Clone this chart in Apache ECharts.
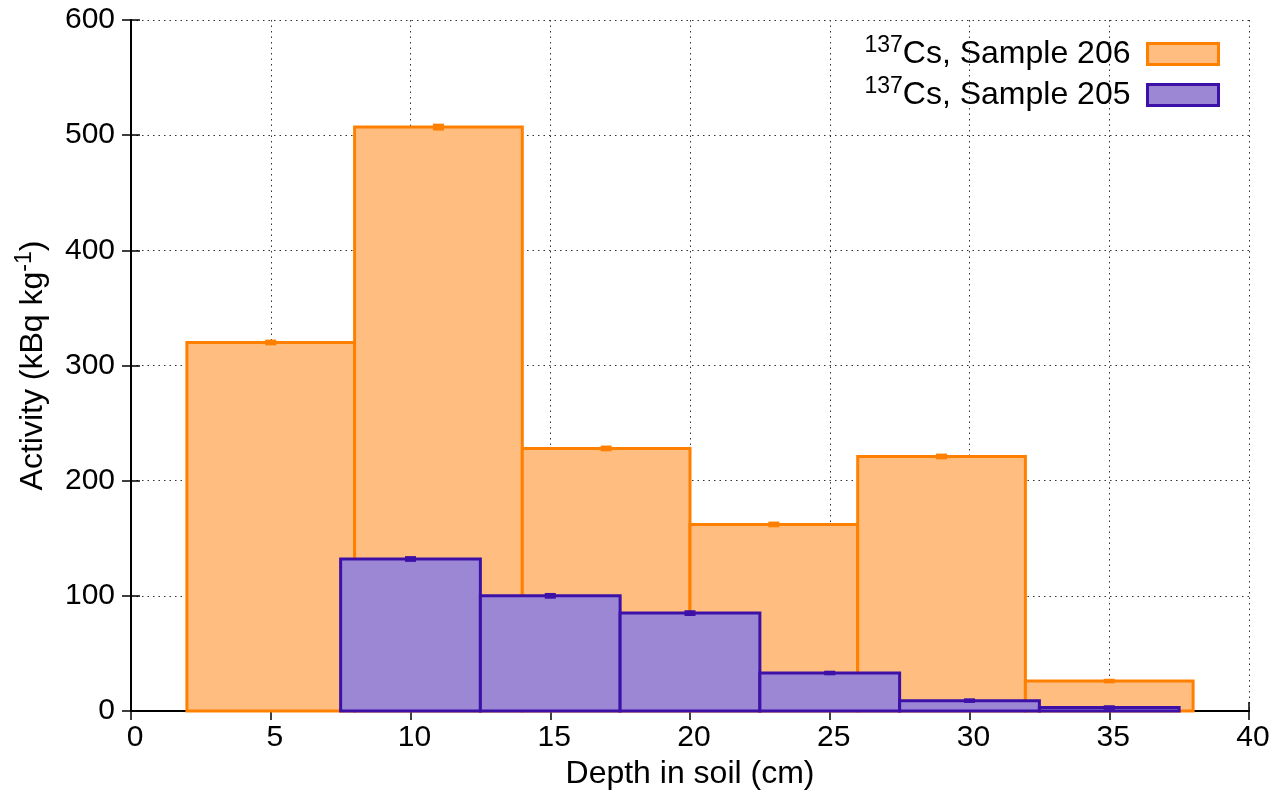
<!DOCTYPE html>
<html>
<head>
<meta charset="utf-8">
<title>137Cs activity vs depth</title>
<script src="https://cdn.jsdelivr.net/npm/echarts@6/dist/echarts.min.js"></script>
<style>
    html, body { margin: 0; padding: 0; background: #fff; }
    #chart { width: 1282px; height: 796px; }
</style>
</head>
<body>
<div id="chart"></div>
<script>
// bin edges (cm) and activities (kBq/kg)
const depth206Left = [2, 8, 14, 20, 26, 32];
const depth206Right = [8, 14, 20, 26, 32, 38];
const activity206 = [320, 507, 228, 162, 221, 26];
const error206 = [2.5, 3, 2.5, 2.5, 2.5, 2];

const depth205Left = [7.5, 12.5, 17.5, 22.5, 27.5, 32.5];
const depth205Right = [12.5, 17.5, 22.5, 27.5, 32.5, 37.5];
const activity205 = [132, 100, 85, 33, 9, 3];
const error205 = [2.5, 2.5, 2.5, 2, 2, 2];

const FONT = 'Liberation Sans';
const FS_TICK = 30; // 刻度字号
const FS = 32; // 标题/图例字号
const ORANGE = '#ff8000';
const ORANGE_FILL = '#ffbd80';
const PURPLE = '#3d10a8';
const PURPLE_FILL = '#9b87d4';

const toRows = (left, right, val, err) => left.map((l, i) => [l, right[i], val[i], err[i]]);

// 直方块 + 误差小块
const boxRender = (stroke, fill) => (params, api) => {
    const l = api.value(0);
    const r = api.value(1);
    const v = api.value(2);
    const e = api.value(3);
    const p0 = api.coord([l, v]);
    const p1 = api.coord([r, 0]);
    const c = (l + r) / 2;
    const eTop = api.coord([c, v + e]);
    const eBot = api.coord([c, v - e]);
    return {
        type: 'group',
        children: [
            {
                type: 'rect',
                shape: { x: p0[0], y: p0[1], width: p1[0] - p0[0], height: p1[1] - p0[1] },
                style: { fill, stroke, lineWidth: 3 },
            },
            {
                type: 'rect',
                shape: { x: eTop[0] - 5.5, y: eTop[1], width: 11, height: Math.max(eBot[1] - eTop[1], 3) },
                style: { fill: stroke, stroke: null },
            },
        ],
    };
};

const supRich = {
    n: { fontFamily: FONT, fontSize: FS, color: '#000' },
    sup: { fontFamily: FONT, fontSize: 23, color: '#000', padding: [0, 0, 17, 0] },
};

const gridLine = { show: true, lineStyle: { color: '#333', type: [1.5, 4], width: 1 } };
const tickStyle = { show: true, inside: true, length: 9, lineStyle: { color: '#000', width: 1.5 } };
const lineStyle = { color: '#000', width: 2 };

const chart = echarts.init(document.getElementById('chart'));
chart.setOption({
    animation: false,
    grid: { left: 131, right: 33, top: 20, bottom: 85 },
    legend: {
        orient: 'vertical',
        right: 62,
        top: 34,
        padding: 0,
        align: 'right',
        itemWidth: 71,
        itemHeight: 21,
        itemGap: 5,
        textStyle: { fontFamily: FONT, fontSize: FS, color: '#000', padding: [0, 12, 0, 0], rich: supRich },
        formatter: name => `{sup|137}{n|${name}}`,
        data: [
            { name: 'Cs, Sample 206', icon: 'rect', itemStyle: { color: ORANGE_FILL, borderColor: ORANGE, borderWidth: 3 } },
            { name: 'Cs, Sample 205', icon: 'rect', itemStyle: { color: PURPLE_FILL, borderColor: PURPLE, borderWidth: 3 } },
        ],
    },
    xAxis: [
        {
            type: 'value',
            min: 0,
            max: 40,
            interval: 5,
            name: 'Depth in soil (cm)',
            nameLocation: 'middle',
            nameGap: 47,
            nameTextStyle: { fontFamily: FONT, fontSize: FS, color: '#000' },
            axisLine: { show: true, onZero: false, lineStyle },
            axisTick: tickStyle,
            axisLabel: { fontFamily: FONT, fontSize: FS_TICK, color: '#000', margin: 12, padding: [0, 0, 0, 8] },
            splitLine: gridLine,
        },
        {
            type: 'value',
            position: 'top',
            min: 0,
            max: 40,
            interval: 5,
            axisLine: { show: true, lineStyle },
            axisTick: tickStyle,
            axisLabel: { show: false },
            splitLine: { show: false },
        },
    ],
    yAxis: [
        {
            type: 'value',
            min: 0,
            max: 600,
            interval: 100,
            name: '{n|Activity (kBq kg}{sup|-1}{n|)}',
            nameLocation: 'middle',
            nameRotate: 90,
            nameGap: 78,
            nameTextStyle: { rich: supRich },
            axisLine: { show: true, onZero: false, lineStyle },
            axisTick: tickStyle,
            axisLabel: { fontFamily: FONT, fontSize: FS_TICK, color: '#000', margin: 16 },
            splitLine: gridLine,
        },
        {
            type: 'value',
            position: 'right',
            min: 0,
            max: 600,
            interval: 100,
            axisLine: { show: true, lineStyle },
            axisTick: tickStyle,
            axisLabel: { show: false },
            splitLine: { show: false },
        },
    ],
    series: [
        {
            name: 'Cs, Sample 206',
            type: 'custom',
            renderItem: boxRender(ORANGE, ORANGE_FILL),
            itemStyle: { color: ORANGE_FILL, borderColor: ORANGE },
            encode: { x: [0, 1], y: 2 },
            data: toRows(depth206Left, depth206Right, activity206, error206),
            z: 2,
        },
        {
            name: 'Cs, Sample 205',
            type: 'custom',
            renderItem: boxRender(PURPLE, PURPLE_FILL),
            itemStyle: { color: PURPLE_FILL, borderColor: PURPLE },
            encode: { x: [0, 1], y: 2 },
            data: toRows(depth205Left, depth205Right, activity205, error205),
            z: 3,
        },
    ],
});
</script>
</body>
</html>
